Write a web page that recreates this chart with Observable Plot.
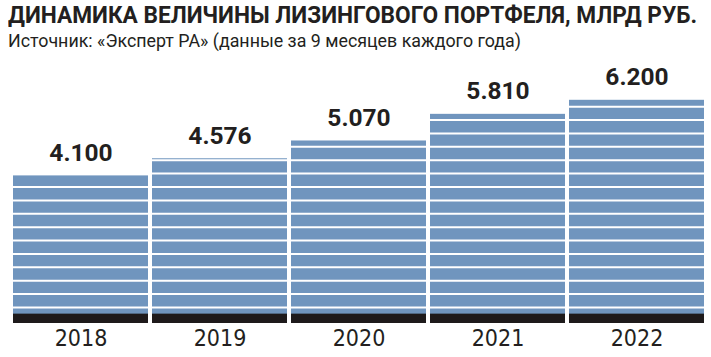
<!DOCTYPE html>
<html>
<head>
<meta charset="utf-8">
<script src="https://cdn.jsdelivr.net/npm/d3@7"></script>
<script src="https://cdn.jsdelivr.net/npm/@observablehq/plot@0.6"></script>
<style>
  html, body { margin: 0; padding: 0; background: #fff; }
  #wrap { width: 711px; height: 357px; overflow: hidden; position: relative; }
  #head { height: 40px; position: relative; }
  #title { position: absolute; left: 8px; top: 2px; font-family: Roboto, sans-serif; font-weight: 700; font-size: 23px; color: #231f20; white-space: nowrap; transform-origin: left top; }
  #subtitle { position: absolute; left: 8px; top: 31px; font-family: Roboto, sans-serif; font-weight: 400; font-size: 17.5px; color: #231f20; white-space: nowrap; transform-origin: left top; }
  svg { display: block; }
</style>
</head>
<body>
<div id="wrap">
  <div id="head">
    <div id="title">ДИНАМИКА ВЕЛИЧИНЫ ЛИЗИНГОВОГО ПОРТФЕЛЯ, МЛРД РУБ.</div>
    <div id="subtitle">Источник: «Эксперт РА» (данные за 9 месяцев каждого года)</div>
  </div>
  <div id="chart"></div>
</div>
<script>
const years = ["2018", "2019", "2020", "2021", "2022"];
const values = [4100, 4576, 5070, 5810, 6200];
const stripeStart = 444;
const stripeStep = 372;
const baseBand = 260;

const data = years.map((year, i) => ({year, value: values[i]}));
const fmt = d3.formatLocale({decimal: ",", thousands: ".", grouping: [3]}).format(",");
const stripes = d3.range(stripeStart, d3.max(values), stripeStep);

const blue = "#7095be";
const dark = "#1e1a1b";

const chart = Plot.plot({
  width: 711,
  height: 317,
  marginLeft: 9,
  marginRight: 3,
  marginTop: 31,
  marginBottom: 34,
  x: {domain: years, padding: 0, axis: null},
  y: {domain: [0, 7000], axis: null},
  style: {background: "#fff"},
  marks: [
    Plot.barY(data, {x: "year", y: "value", fill: blue, insetLeft: 2, insetRight: 2}),
    Plot.ruleY(stripes, {stroke: "#fff", strokeWidth: 2}),
    Plot.barY(data, {x: "year", y1: 0, y2: baseBand, fill: dark, insetLeft: 2, insetRight: 2}),
    Plot.text(data, {x: "year", y: "value", text: d => fmt(d.value), dy: -15, lineAnchor: "bottom",
      fontFamily: "Roboto, sans-serif", fontWeight: 700, fontSize: 24.5, fill: "#231f20"}),
    Plot.axisX({tickSize: 0, tickPadding: 6, fontSize: 23, fontFamily: "'Liberation Sans Narrow', 'DejaVu Sans Condensed', sans-serif", color: "#231f20", label: null})
  ]
});
document.getElementById("chart").appendChild(chart);

function fit(id, w) {
  const el = document.getElementById(id);
  const cur = el.getBoundingClientRect().width;
  el.style.transform = `scaleX(${w / cur})`;
}
fit("title", 689);
fit("subtitle", 513);
</script>
</body>
</html>
